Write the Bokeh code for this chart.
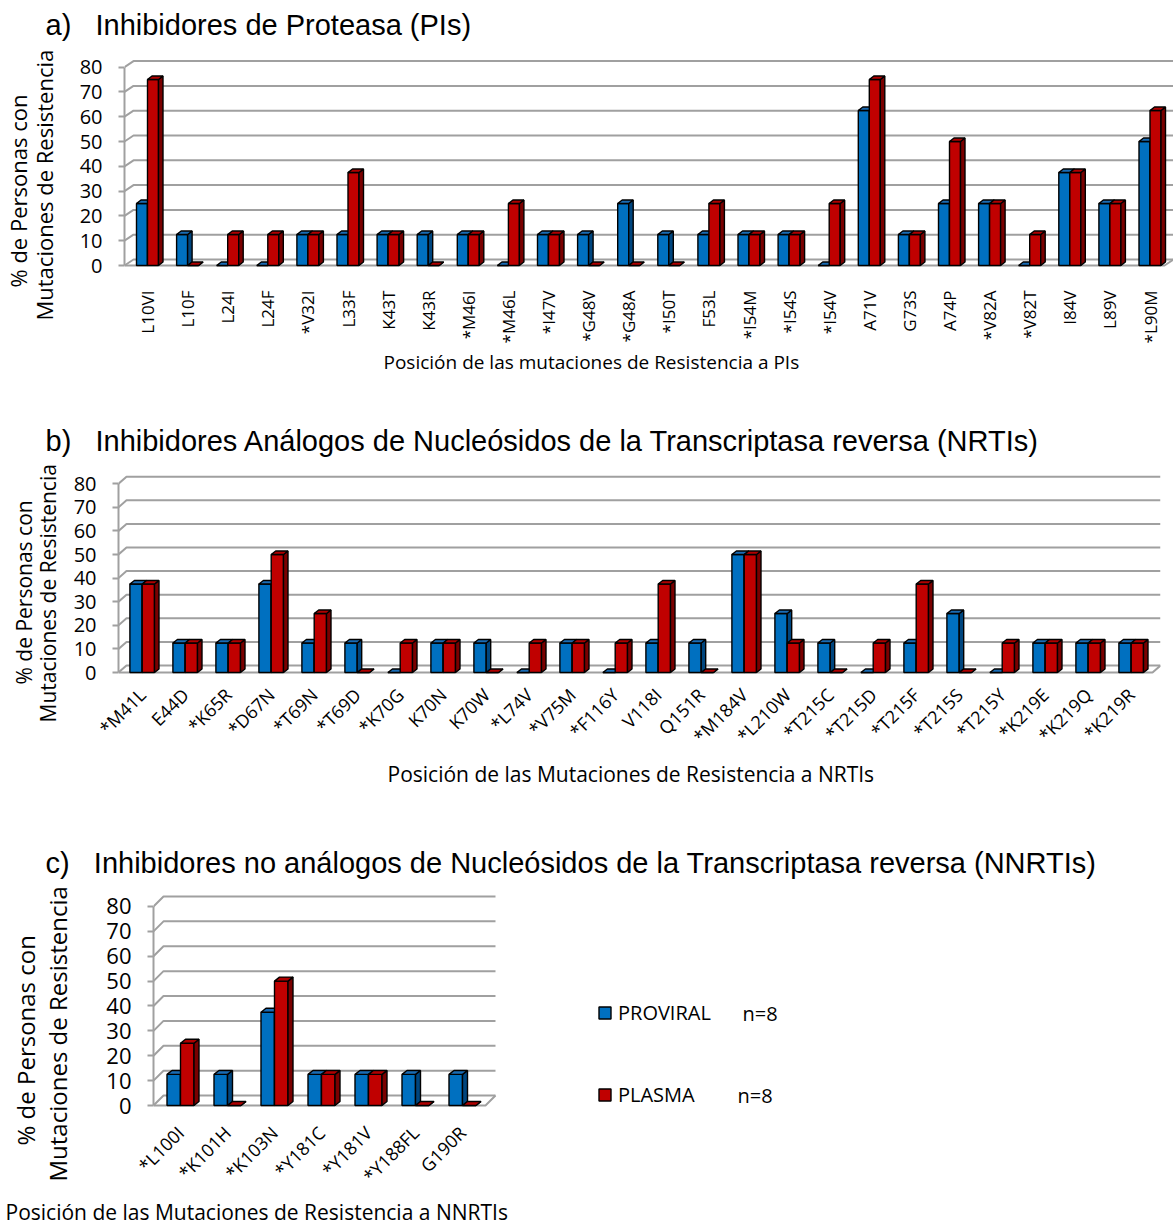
import math
from bokeh.plotting import figure
from bokeh.layouts import column, row
from bokeh.models import FixedTicker, Label, Legend, LegendItem, Range1d, Title
from bokeh.embed import file_html
from bokeh.resources import INLINE

# ---------------- data ----------------
pi_mutations = ["L10VI", "L10F", "L24I", "L24F", "*V32I", "L33F", "K43T", "K43R", "*M46I", "*M46L",
                "*I47V", "*G48V", "*G48A", "*I50T", "F53L", "*I54M", "*I54S", "*I54V", "A71V", "G73S",
                "A74P", "*V82A", "*V82T", "I84V", "L89V", "*L90M"]
pi_proviral = [25, 12.5, 0, 0, 12.5, 12.5, 12.5, 12.5, 12.5, 0, 12.5, 12.5, 25, 12.5, 12.5, 12.5, 12.5, 0,
               62.5, 12.5, 25, 25, 0, 37.5, 25, 50]
pi_plasma = [75, 0, 12.5, 12.5, 12.5, 37.5, 12.5, 0, 12.5, 25, 12.5, 0, 0, 0, 25, 12.5, 12.5, 25,
             75, 12.5, 50, 25, 12.5, 37.5, 25, 62.5]

nrti_mutations = ["*M41L", "E44D", "*K65R", "*D67N", "*T69N", "*T69D", "*K70G", "K70N", "K70W", "*L74V",
                  "*V75M", "*F116Y", "V118I", "Q151R", "*M184V", "*L210W", "*T215C", "*T215D", "*T215F",
                  "*T215S", "*T215Y", "*K219E", "*K219Q", "*K219R"]
nrti_proviral = [37.5, 12.5, 12.5, 37.5, 12.5, 12.5, 0, 12.5, 12.5, 0, 12.5, 0, 12.5, 12.5, 50, 25, 12.5, 0,
                 12.5, 25, 0, 12.5, 12.5, 12.5]
nrti_plasma = [37.5, 12.5, 12.5, 50, 25, 0, 12.5, 12.5, 0, 12.5, 12.5, 12.5, 37.5, 0, 50, 12.5, 0, 12.5,
               37.5, 0, 12.5, 12.5, 12.5, 12.5]

nnrti_mutations = ["*L100I", "*K101H", "*K103N", "*Y181C", "*Y181V", "*Y188FL", "G190R"]
nnrti_proviral = [12.5, 12.5, 37.5, 12.5, 12.5, 12.5, 12.5]
nnrti_plasma = [25, 0, 50, 12.5, 12.5, 0, 0]

y_ticks = [0, 10, 20, 30, 40, 50, 60, 70, 80]
series_names = ["PROVIRAL", "PLASMA"]
sample_sizes = ["n=8", "n=8"]

titles = ["a)\u00a0\u00a0 Inhibidores de Proteasa (PIs)",
          "b)\u00a0\u00a0 Inhibidores Análogos de Nucleósidos de la Transcriptasa reversa (NRTIs)",
          "c)\u00a0\u00a0 Inhibidores no análogos de Nucleósidos de la Transcriptasa reversa (NNRTIs)"]
x_titles = ["Posición de las mutaciones de Resistencia a PIs",
            "Posición de las Mutaciones de Resistencia a NRTIs",
            "Posición de las Mutaciones de Resistencia a NNRTIs"]
y_title = ["% de Personas con", "Mutaciones de Resistencia"]

# ---------------- style ----------------
TFONT = "Liberation Sans"
FONT = "Open Sans"
BLUE, BLUE_SIDE, BLUE_TOP = "#0070C0", "#00467f", "#1a6cb5"
RED, RED_SIDE, RED_TOP = "#C00000", "#7a0000", "#b00000"
GRID = "#a0a0a0"
FIG_W = 1173


def make_panel(cats, prov, plas, c, title, xtitle):
    top, h = c["fig_top"], c["fig_h"]
    fl, fr, ft, fb = c["frame"]          # page px
    d, sy, c0, y0 = c["d"], c["sy"], c["c0"], c["y0"]
    xs0 = -(c0 - fl) / d
    xe0 = xs0 + (fr - fl) / d
    ys0 = -(fb - y0) / sy
    ye0 = (y0 - ft) / sy

    def X(px):
        return xs0 + (px - fl) / d

    def Y(py):
        return (y0 - py) / sy

    p = figure(width=FIG_W, height=h, x_range=Range1d(xs0, xe0), y_range=Range1d(ys0, ye0),
               min_border_left=fl, min_border_right=FIG_W - fr,
               min_border_top=ft - top, min_border_bottom=top + h - fb,
               output_backend="svg", toolbar_location=None)
    p.outline_line_color = None
    p.xgrid.visible = False
    p.ygrid.visible = False

    # back-wall gridlines and floor
    gdx = c["gslant"][0] / d
    gdy = c["gslant"][1] / sy
    gend = X(c["grid_end"])
    p.multi_line(xs=[[xs0, xs0 + gdx, gend] for _ in y_ticks],
                 ys=[[v, v + gdy, v + gdy] for v in y_ticks],
                 line_color=GRID, line_width=2)
    p.line(x=[xs0, gend - gdx, gend], y=[0, 0, gdy], line_color=GRID, line_width=2)

    # 3-D bars
    w = c["bar_w"] / d
    ddx = c["depth"][0] / d
    ddy = c["depth"][1] / sy
    n = len(cats)
    renderers = []
    for vals, sign, fcol, scol, tcol in ((prov, -1, BLUE, BLUE_SIDE, BLUE_TOP),
                                         (plas, 1, RED, RED_SIDE, RED_TOP)):
        xc = [i + sign * w / 2 for i in range(n)]
        r = p.vbar(x=xc, width=w, top=vals, bottom=0, fill_color=fcol,
                   line_color="black", line_width=1.4)
        renderers.append(r)
        p.patches(xs=[[x + w / 2, x + w / 2 + ddx, x + w / 2 + ddx, x + w / 2] for x in xc],
                  ys=[[0, ddy, v + ddy, v] for v in vals],
                  fill_color=scol, line_color="black", line_width=1.4)
        p.patches(xs=[[x - w / 2, x - w / 2 + ddx, x + w / 2 + ddx, x + w / 2] for x in xc],
                  ys=[[v, v + ddy, v + ddy, v] for v in vals],
                  fill_color=tcol, line_color="black", line_width=1.4)

    # axes
    ya = p.yaxis[0]
    ya.ticker = FixedTicker(ticks=y_ticks)
    ya.bounds = (0, 80)
    ya.axis_line_color = GRID
    ya.axis_line_width = 2
    ya.major_tick_line_color = GRID
    ya.major_tick_line_width = 2
    ya.major_tick_out = 6
    ya.major_tick_in = 0
    ya.minor_tick_line_color = None
    ya.major_label_text_font = FONT
    ya.major_label_text_font_size = c["ytick_fs"]
    ya.major_label_text_color = "black"
    ya.major_label_standoff = c["ytick_standoff"]

    xa = p.xaxis[0]
    xa.ticker = FixedTicker(ticks=list(range(n)))
    xa.major_label_overrides = {i: cat for i, cat in enumerate(cats)}
    xa.major_label_orientation = c["orient"]
    xa.axis_line_color = None
    xa.major_tick_line_color = None
    xa.minor_tick_line_color = None
    xa.major_tick_out = 0
    xa.major_tick_in = 0
    xa.major_label_text_font = FONT
    xa.major_label_text_font_size = c["xtick_fs"]
    xa.major_label_text_color = "black"
    xa.major_label_standoff = c["xtick_standoff"]

    # panel title (above)
    tx, tstand = c["title"]
    p.title.text = title
    p.title.align = "left"
    p.title.offset = tx - fl
    p.title.vertical_align = "middle"
    p.title.standoff = tstand
    p.title.text_font = TFONT
    p.title.text_font_size = "29px"
    p.title.text_font_style = "normal"
    p.title.text_color = "black"

    # x title (below)
    xl, xstand = c["xtitle"]
    p.add_layout(Title(text=xtitle, align="left", offset=xl - fl, vertical_align="top",
                       standoff=xstand, text_font=FONT, text_font_size=c["xtitle_fs"],
                       text_font_style="normal", text_color="black"), "below")

    # y title (left, two lines)
    (off1, s1), (off2, s2) = c["ytitle"]
    p.add_layout(Title(text=y_title[1], align="left", offset=off1, vertical_align="middle",
                       standoff=s1, text_font=FONT, text_font_size=c["ytitle_fs"],
                       text_font_style="normal", text_color="black"), "left")
    p.add_layout(Title(text=y_title[0], align="left", offset=off2, vertical_align="bottom",
                       standoff=s2, text_font=FONT, text_font_size=c["ytitle_fs"],
                       text_font_style="normal", text_color="black"), "left")

    if c.get("legend"):
        lg = c["legend"]
        legend = Legend(items=[LegendItem(label=series_names[0], renderers=[renderers[0]]),
                               LegendItem(label=series_names[1], renderers=[renderers[1]])],
                        location=lg["loc"], orientation="vertical", spacing=lg["spacing"],
                        padding=0, margin=0, glyph_width=15, glyph_height=15, label_standoff=6,
                        label_text_font=FONT, label_text_font_size="20px", label_text_color="black",
                        border_line_color=None, background_fill_alpha=0)
        p.add_layout(legend)
        for (nx, ny), s in zip(lg["n_pos"], sample_sizes):
            p.add_layout(Label(x=X(nx), y=Y(ny), text=s, text_font=FONT, text_font_size="20px",
                               text_align="left", text_baseline="middle", text_color="black"))
    return p


cfg_a = dict(fig_top=0, fig_h=395, frame=(124, 1173, 48, 268), d=40.1, c0=147, sy=2.48, y0=265,
             gslant=(9, 6), grid_end=1173, bar_w=11, depth=(4.5, 3.5),
             ytick_fs="20px", ytick_standoff=16, xtick_fs="17px", xtick_standoff=22, orient=math.pi / 2,
             title=(45, 13), xtitle=(383, 4), xtitle_fs="19px",
             ytitle=((-52, 34), (-19, -44)), ytitle_fs="22px")
cfg_b = dict(fig_top=395, fig_h=420, frame=(118, 1160, 470, 675), d=43.0, c0=141.7, sy=2.36, y0=672,
             gslant=(8, 7), grid_end=1160, bar_w=12.3, depth=(4.5, 3.5),
             ytick_fs="20px", ytick_standoff=16, xtick_fs="18px", xtick_standoff=16, orient=math.pi / 4,
             title=(45, 25), xtitle=(387, 0), xtitle_fs="21px",
             ytitle=((-47, 15.4), (-9, -24)), ytitle_fs="21px")
cfg_c = dict(fig_top=815, fig_h=411, frame=(153, 1173, 893, 1109), d=47.0, c0=180, sy=2.5, y0=1106,
             gslant=(10, 10), grid_end=495, bar_w=13.5, depth=(5, 4),
             ytick_fs="22px", ytick_standoff=16, xtick_fs="18px", xtick_standoff=21, orient=math.pi / 4,
             title=(45, 27), xtitle=(5, -2), xtitle_fs="21px",
             ytitle=((-73, 57), (-37, -60)), ytitle_fs="24px",
             legend=dict(loc=(444, 0), spacing=55, n_pos=((742, 1014), (737, 1096))))

pa = make_panel(pi_mutations, pi_proviral, pi_plasma, cfg_a, titles[0], x_titles[0])
pb = make_panel(nrti_mutations, nrti_proviral, nrti_plasma, cfg_b, titles[1], x_titles[1])
pc = make_panel(nnrti_mutations, nnrti_proviral, nnrti_plasma, cfg_c, titles[2], x_titles[2])

layout = column(row(pa), row(pb), row(pc), spacing=0)
open("out.html", "w").write(file_html(layout, INLINE))
